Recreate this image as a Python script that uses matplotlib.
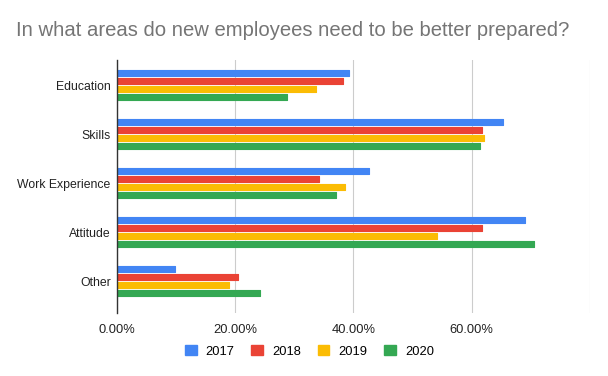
import numpy as np
import matplotlib
matplotlib.use("Agg")
import matplotlib.pyplot as plt
from matplotlib.patches import Patch

plt.rcParams['font.family'] = ['Liberation Sans', 'DejaVu Sans']

# data
categories = ["Education", "Skills", "Work Experience", "Attitude", "Other"]
years = ["2017", "2018", "2019", "2020"]
v2017 = [39.3, 65.4, 42.7, 69.0, 9.8]
v2018 = [38.3, 61.7, 34.2, 61.7, 20.5]
v2019 = [33.6, 62.1, 38.6, 54.1, 19.0]
v2020 = [28.8, 61.4, 37.1, 70.5, 24.2]
series = [v2017, v2018, v2019, v2020]
colors = ["#4285F4", "#EA4335", "#FBBC04", "#34A853"]
xticks = [0, 20, 40, 60, 80]
xlabels = ["0.00%", "20.00%", "40.00%", "60.00%", ""]

fig = plt.figure(figsize=(6.08, 3.76), dpi=100)
ax = fig.add_axes([0.1924, 0.168, 0.7776, 0.672])

y = np.arange(len(categories))
step = 0.165
for i, (vals, c) in enumerate(zip(series, colors)):
    ax.barh(y + (i - 1.5) * step, vals, height=0.115, color=c,
            edgecolor=c, linewidth=0.8, joinstyle="round", zorder=3)

ax.set_ylim(4.65, -0.51)
ax.set_xlim(0, 80)
ax.set_yticks(y)
ax.set_yticklabels(categories, fontsize=8.8, color="#222222")
ax.set_xticks(xticks)
ax.set_xticklabels(xlabels, fontsize=9.3, color="#222222")
ax.tick_params(axis="y", length=0, pad=4.5)
ax.tick_params(axis="x", length=0, pad=8)
ax.grid(axis="x", color="#cccccc", linewidth=0.8, zorder=0)
for s in ["top", "right", "bottom"]:
    ax.spines[s].set_visible(False)
ax.spines["left"].set_color("#333333")
ax.spines["left"].set_linewidth(1.0)
ax.spines["left"].set_zorder(4)

fig.text(0.026, 0.918, "In what areas do new employees need to be better prepared?",
         fontsize=14.6, color="#757575", va="center", ha="left")

handles = [Patch(color=c, label=yr) for c, yr in zip(colors, years)]
fig.legend(handles=handles, loc="center", bbox_to_anchor=(0.509, 0.066), ncol=4,
           frameon=False, fontsize=9.3, handlelength=0.9, handleheight=0.9,
           columnspacing=1.3, handletextpad=0.7)

fig.savefig("out.png", dpi=100)
